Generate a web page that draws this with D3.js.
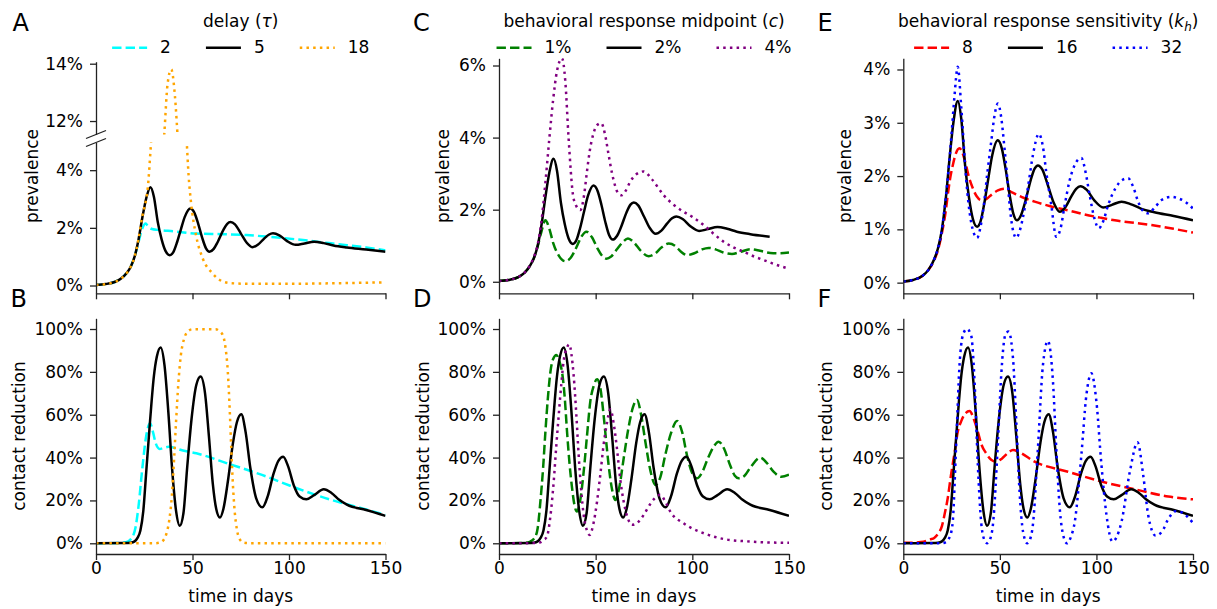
<!DOCTYPE html>
<html><head><meta charset="utf-8">
<script src="https://cdn.jsdelivr.net/npm/d3@7"></script>
<style>
body{margin:0;background:#fff}
svg{display:block}
</style></head><body>
<svg id="chart" width="1217" height="609" font-family="DejaVu Sans"></svg>
<script>
// ---------------- DATA ----------------
const xTicks = [0, 50, 100, 150];
const yTicksALow = [0, 2, 4];
const yTicksAHigh = [12, 14];
const yTicksC = [0, 2, 4, 6];
const yTicksE = [0, 1, 2, 3, 4];
const yTicksContact = [0, 20, 40, 60, 80, 100];
const panelLetters = ["A", "B", "C", "D", "E", "F"];
const legendTau = ["2", "5", "18"];
const legendC = ["1%", "2%", "4%"];
const legendK = ["8", "16", "32"];

// baseline (tau=5, c=2%, k=16) -- black curve in all panels
const prevBase = [[0,0.02],[5,0.05],[10,0.13],[13,0.24],[16,0.44],[18,0.65],[20,1.0],[22,1.58],[24,2.35],[26,3.02],[28.2,3.41],[30,3.08],[32,2.2],[34,1.6],[36,1.2],[38.2,1.05],[40,1.15],[42,1.5],[44,1.95],[46,2.38],[48.9,2.67],[51,2.52],[53,2.13],[55,1.66],[57,1.29],[58.8,1.17],[61,1.27],[63,1.5],[66,1.93],[68,2.14],[69.7,2.2],[72,2.12],[75,1.81],[78,1.49],[81,1.33],[84,1.42],[87,1.62],[89.5,1.76],[91.7,1.81],[95,1.74],[99,1.54],[103.5,1.41],[108,1.46],[113,1.52],[118,1.47],[123,1.39],[130,1.32],[140,1.25],[150,1.17]];
const contactBase = [[0,0],[15,0.1],[18,0.3],[20,0.9],[21.5,2.5],[23,6],[24.5,15],[26,33],[28,57],[30,78],[31.5,87],[33.5,91.4],[35.5,83],[37.5,61],[39.5,34],[41.5,15],[43.4,8.2],[45.3,14],[47.3,36],[49.5,58],[52,74],[54.2,77.8],[56.5,70],[58.5,50],[60.5,28],[62.3,16],[64.2,12],[66,16],[68.5,30],[71,47],[73,56.5],[75.3,60.2],[77.5,52],[80,35],[83,21],[86.2,16.8],[89,22],[92,32.5],[94.5,38.5],[97,40.4],[99.5,36],[102.5,27],[105.5,21.8],[109,20.5],[113,22.5],[118,25.2],[122,23.5],[126,20.3],[130,18],[140,15.5],[150,12.8]];

// delay tau = 2 (cyan) and 18 (orange)
const prevTau2 = [[0,0.02],[5,0.05],[10,0.13],[13,0.24],[16,0.44],[18,0.65],[20,1.0],[22,1.5],[24,1.98],[25.7,2.15],[27,2.05],[29,1.96],[32,1.93],[40,1.88],[52,1.8],[65,1.78],[78,1.75],[91,1.68],[104,1.6],[117,1.5],[130,1.4],[140,1.32],[150,1.22]];
const contactTau2 = [[0,0],[12,0.1],[15.5,0.5],[17.5,1.5],[19,3],[20.5,7.5],[22,17],[24,35],[26,50],[28,56],[29.5,52],[31,46.5],[33,44],[35,44.5],[37.5,45],[45,43.3],[52,42],[69,37],[86,31.9],[104,25.7],[121,20.5],[138,16.3],[150,13.2]];
const prevTau18 = [[0,0.02],[5,0.05],[10,0.13],[13,0.24],[16,0.44],[18,0.65],[20,1.0],[22,1.6],[24,2.4],[26,3.0],[26.8,3.37],[28.5,4.93],[30.5,6.8],[32.5,8.8],[34.3,10.5],[35.4,11.57],[37.1,13.3],[39,13.8],[40.6,13.1],[41.8,12.0],[43,10.5],[45,7.6],[47,5.0],[48,3.8],[49.2,2.9],[51.8,1.75],[55.3,0.94],[60.4,0.42],[65,0.16],[70,0.08],[80,0.06],[100,0.06],[125,0.08],[150,0.11]];
const contactTau18 = [[0,0],[30,0],[33,0.3],[35,1.5],[36.5,4.5],[38,11],[39.3,22],[40.5,40],[41.5,57],[42.7,75],[44,88],[45.5,95],[47.5,98.8],[50,99.9],[62,99.9],[64,99],[65.5,97.5],[67,92],[68.3,80],[69.3,62],[70.1,44],[70.9,28],[71.9,14.5],[73,6.5],[74.5,1.8],[76.5,0.3],[80,0],[150,0]];

// midpoint c = 1% (green) and 4% (purple)
const prevC1 = [[0,0.02],[5,0.05],[10,0.13],[13,0.24],[16,0.44],[18,0.65],[20,0.98],[22,1.4],[24,1.71],[26,1.48],[28,1.08],[31,0.72],[34.3,0.57],[37,0.66],[40,0.95],[42.5,1.24],[45.2,1.39],[48,1.24],[51,0.92],[53,0.74],[55.5,0.64],[58,0.7],[61,0.9],[64,1.1],[66.7,1.2],[70,1.08],[73,0.88],[77.4,0.71],[80.5,0.77],[84,0.95],[87.8,1.06],[91,1.0],[94,0.84],[97.2,0.74],[101,0.79],[105,0.9],[108.4,0.94],[112,0.9],[116,0.81],[120.5,0.77],[125,0.83],[130,0.9],[135,0.86],[140.3,0.8],[145,0.79],[150,0.81]];
const contactC1 = [[0,0],[14,0.2],[16.2,0.8],[18.8,3.1],[20,7],[21.4,19.4],[22.8,35],[24,52],[25.3,68],[26.6,80],[28,86],[29.7,87.9],[31.2,85],[32.6,80],[34,68],[35.2,52],[36.5,37],[37.8,25.7],[39,18],[40.3,14.8],[42,20],[43.8,33.4],[45.5,50],[47.2,66],[49,73.5],[50.7,76.5],[52.5,72],[54.1,59.9],[55.5,47],[56.7,36.5],[58.5,25],[60.2,20.2],[62.2,26],[64.5,39.7],[67,54],[69.3,63.5],[71.4,66.9],[73.5,60],[75.7,47.4],[78.3,34],[80.9,27.2],[83.5,31],[86,41.2],[89,51.5],[92.1,57.1],[94.7,52],[97.2,41.2],[99.8,33],[102.4,30.3],[105,33],[108,39.5],[111,45],[113.6,47.4],[116.5,44],[119.5,36.5],[122,31.5],[124,30.3],[127,31.5],[130.5,36],[135.2,40],[138.5,37.5],[142,33.4],[146,31],[150,32]];
const prevC4 = [[0,0.02],[5,0.05],[10,0.13],[13,0.24],[16,0.45],[18,0.68],[20,1.03],[22,1.7],[24,2.75],[26,3.95],[28,5.05],[30,5.85],[32.6,6.2],[34.3,5.56],[36,3.98],[38.3,2.4],[40,2.1],[42.1,1.99],[44,2.4],[45.5,3.06],[47,3.65],[48.9,4.12],[50.8,4.35],[52.9,4.4],[54.8,4.1],[56.7,3.52],[58.5,3.0],[60.2,2.64],[61.8,2.44],[63.6,2.4],[65.5,2.52],[67.9,2.78],[71,2.98],[74.8,3.06],[79,2.85],[85.2,2.4],[90,2.15],[95.5,1.94],[100,1.8],[105.9,1.57],[111,1.33],[116.2,1.11],[121,0.96],[126.6,0.83],[132,0.7],[137,0.6],[143,0.48],[150,0.36]];
const contactC4 = [[0,0],[18,0.1],[21.4,0.5],[23,1.5],[24.8,3.1],[26.5,12],[28.3,28.8],[29.6,45],[30.9,59.9],[32.2,74],[33.4,84.8],[35,91],[36.4,92.8],[37.5,88],[38.6,78.5],[40,60],[41.2,41.2],[42.5,25],[43.8,13.2],[45.3,6.5],[46.9,3.9],[48.8,9],[50.7,19.4],[52.4,32],[54.1,45.9],[55.8,56],[57.6,62.5],[59.3,56],[61,44.3],[62.7,30],[64.5,19.4],[66.5,12],[68.8,8.6],[71.5,9.5],[74.8,13.2],[78,18],[80,20.5],[83.4,22.6],[86,19.5],[88.6,14.8],[95.5,9.3],[105.9,4.7],[116.2,2],[130,0.8],[150,0.2]];

// sensitivity k = 8 (red) and 32 (blue)
const prevK8 = [[0,0.02],[5,0.05],[10,0.13],[13,0.24],[16,0.42],[18,0.62],[20,0.93],[22,1.35],[23,1.64],[24,1.9],[25.6,2.2],[27,2.4],[29.1,2.52],[31,2.4],[32.5,2.2],[34,1.98],[36,1.77],[38,1.62],[40.3,1.55],[43,1.57],[46,1.66],[49,1.73],[52.4,1.76],[56,1.7],[61.1,1.61],[68,1.52],[76.6,1.43],[85,1.36],[93.9,1.28],[102,1.22],[111.2,1.16],[120,1.12],[128.5,1.08],[140,1.01],[150,0.94]];
const contactK8 = [[0,0.2],[5,0.3],[9,0.6],[12,1.2],[14,1.8],[16,2.5],[18,4.5],[20,8],[21.3,13.2],[23,21],[24.7,31.9],[26.5,42],[28.2,52],[30,57],[32,60.5],[34.3,61.7],[36.5,58],[38.6,52],[40.5,46],[42.9,42],[45.5,39],[48.1,38.1],[51,39.5],[54,42],[56.8,43.5],[60,42.5],[68,38.1],[85.3,33.4],[102.6,28.8],[119.9,25.2],[137.2,21.8],[150,20.5]];
const prevK32 = [[0,0.02],[5,0.05],[10,0.13],[13,0.24],[16,0.44],[18,0.65],[20,1.0],[22,1.6],[24,2.35],[25,2.8],[26.5,3.5],[28.2,4.05],[30,3.3],[32.5,1.96],[35.1,1.14],[38.2,0.84],[40,1.05],[41.7,1.46],[43.5,2.05],[45.5,2.64],[47.3,3.15],[49,3.36],[50.7,3.1],[52.4,2.52],[54,1.9],[55.5,1.3],[57,0.95],[58.5,0.84],[60.5,1.0],[62.8,1.39],[65,1.9],[67.1,2.39],[70.2,2.79],[72.3,2.55],[74,2.08],[76.6,1.46],[79.2,0.86],[81.3,1.0],[83.6,1.46],[86,1.9],[88.8,2.21],[92.2,2.34],[94.5,2.05],[96.5,1.64],[99,1.2],[101.2,1.02],[103.5,1.15],[106.1,1.46],[110,1.78],[113.5,1.93],[116.4,1.96],[119,1.8],[121.6,1.52],[124,1.35],[126.8,1.3],[130,1.4],[133.7,1.55],[138.9,1.61],[142.5,1.58],[145.9,1.52],[150,1.39]];
const contactK32 = [[0,0],[20,0],[22,0.5],[23.5,2],[25,6],[25.6,10],[27.3,44.3],[29.1,83],[30.8,97],[32.9,100],[35.1,97.2],[36.9,75.4],[38.6,36.5],[40.3,10],[41.8,2],[43.4,0],[45,2],[46.4,8.6],[49,47.4],[50.7,78.5],[52.8,97.2],[54.5,98.8],[56.8,86.3],[58.5,56.8],[60.2,24.1],[62,5.4],[64.2,0],[65.7,2],[67.1,8.6],[69.7,44.3],[72.3,83.2],[74.9,94.4],[77.5,75.4],[79.2,44.3],[81,16.3],[83,3],[84.8,0],[86.8,3],[88.8,10.1],[92.2,41.2],[94.8,69.2],[97.4,79.3],[100,66],[102.6,36.5],[105.2,13.2],[108.3,0.8],[110.5,3],[113,10.1],[117.3,33.4],[121.3,47.1],[124.2,31.9],[126.8,13.2],[130.6,3.6],[134,5.5],[137,11],[141,15],[144,14.5],[147,12.5],[150,9.5]];

// ---------------- DRAWING ----------------
const svg = d3.select("#chart");
const defs = svg.append("defs");
const FS = 17;
const LW = 2.5;
const DASHED = "9.4,4.1", DOTTED = "2.5,4.2";
const SPINE = "#222";

const colX = [[96, 385.5], [499, 789], [903.3, 1193]];
const topRow = [293.3, 58.3];
const botRow = [554, 318.3];

let clipN = 0;
function clip(x0, x1, y0, y1) {
  const id = "clip" + (clipN++);
  defs.append("clipPath").attr("id", id).append("rect")
    .attr("x", x0).attr("y", y1).attr("width", x1 - x0).attr("height", y0 - y1);
  return id;
}

function yAxis(scale, ticks, x0, fmt) {
  const g = svg.append("g").attr("transform", `translate(${x0},0)`);
  g.call(d3.axisLeft(scale).tickValues(ticks).tickSize(6).tickSizeOuter(0).tickPadding(7).tickFormat(fmt));
  style(g);
}
function xAxis(scale, y0, labels) {
  const g = svg.append("g").attr("transform", `translate(0,${y0})`);
  g.call(d3.axisBottom(scale).tickValues(xTicks).tickSize(6).tickSizeOuter(0).tickPadding(1.5)
    .tickFormat(labels ? d3.format("d") : () => ""));
  style(g);
}
function style(g) {
  g.attr("font-size", FS).attr("font-family", "DejaVu Sans");
  g.select(".domain").attr("stroke", SPINE).attr("stroke-width", 1.3);
  g.selectAll(".tick line").attr("stroke", SPINE).attr("stroke-width", 1.3);
  g.selectAll(".tick text").attr("fill", "#000");
}
function plot(data, x, y, color, dash, clipId) {
  svg.append("path").datum(data)
    .attr("clip-path", `url(#${clipId})`)
    .attr("fill", "none").attr("stroke", color).attr("stroke-width", LW)
    .attr("stroke-dasharray", dash).attr("stroke-linejoin", "round").attr("stroke-linecap", "butt")
    .attr("d", d3.line().x(d => x(d[0])).y(d => y(d[1])).curve(d3.curveMonotoneX));
}
const pct = d => d + "%";

function yLabel(text, x, cy) {
  svg.append("text").attr("transform", `translate(${x},${cy}) rotate(-90)`)
    .attr("text-anchor", "middle").attr("font-size", FS).text(text);
}
function xLabel(cx) {
  svg.append("text").attr("x", cx).attr("y", 602).attr("text-anchor", "middle")
    .attr("font-size", FS).text("time in days");
}
function letter(t, x, y) {
  svg.append("text").attr("x", x).attr("y", y).attr("font-size", 24).text(t);
}
function legend(cx, titleParts, labels, styles) {
  const t = svg.append("text").attr("x", cx).attr("y", 27).attr("text-anchor", "middle").attr("font-size", FS);
  titleParts.forEach(p => {
    const s = t.append("tspan").text(p.t);
    if (p.i) s.attr("font-style", "italic");
    if (p.sub) s.attr("font-size", 12).attr("dy", 4);
    if (p.up) s.attr("dy", -4);
  });
  const HL = 35, PAD = 13, CS = 35;
  const texts = labels.map(l => svg.append("text").attr("y", 53.3).attr("font-size", FS).text(l));
  const widths = texts.map(tx => tx.node().getComputedTextLength());
  const total = widths.reduce((a, b) => a + b, 0) + labels.length * (HL + PAD) + (labels.length - 1) * CS;
  let x = cx - total / 2;
  labels.forEach((l, i) => {
    svg.append("line").attr("x1", x).attr("x2", x + HL).attr("y1", 47.7).attr("y2", 47.7)
      .attr("stroke", styles[i][0]).attr("stroke-width", LW).attr("stroke-dasharray", styles[i][1]);
    texts[i].attr("x", x + HL + PAD);
    x += HL + PAD + widths[i] + CS;
  });
}

// ----- Column 1: delay -----
{
  const [x0, x1] = colX[0];
  const x = d3.scaleLinear([0, 150], [x0, x1]);
  const yLow = d3.scaleLinear([-0.27, 4.96], [293.3, 142.5]);
  const yHigh = d3.scaleLinear([11.53, 14.07], [134.5, 61.7]);
  const cLow = clip(x0, x1, 293.3, 142.5), cHigh = clip(x0, x1, 134.5, 61.7);
  [[yLow, cLow], [yHigh, cHigh]].forEach(([y, c]) => {
    plot(prevTau2, x, y, "#00ffff", DASHED, c);
    plot(prevBase, x, y, "#000", null, c);
    plot(prevTau18, x, y, "#ffa500", DOTTED, c);
  });
  yAxis(yLow, yTicksALow, x0, pct);
  yAxis(yHigh, yTicksAHigh, x0, pct);
  xAxis(x, 293.3, false);
  // break marks
  [134.5, 142.5].forEach(yb => {
    svg.append("line").attr("x1", x0 - 10).attr("y1", yb + 4).attr("x2", x0 + 10).attr("y2", yb - 4)
      .attr("stroke", SPINE).attr("stroke-width", 1.3);
  });
  const yB = d3.scaleLinear([-5, 105], botRow);
  const cB = clip(x0, x1, botRow[0], botRow[1]);
  plot(contactTau2, x, yB, "#00ffff", DASHED, cB);
  plot(contactBase, x, yB, "#000", null, cB);
  plot(contactTau18, x, yB, "#ffa500", DOTTED, cB);
  yAxis(yB, yTicksContact, x0, pct);
  xAxis(x, botRow[0], true);
  yLabel("prevalence", 38, 176);
  yLabel("contact reduction", 25, 436);
  xLabel((x0 + x1) / 2);
  legend((x0 + x1) / 2, [{t: "delay ("}, {t: "τ", i: true}, {t: ")"}], legendTau,
    [["#00ffff", DASHED], ["#000", null], ["#ffa500", DOTTED]]);
  letter(panelLetters[0], 12.5, 31);
  letter(panelLetters[1], 10.5, 307);
}

// ----- Column 2: midpoint -----
{
  const [x0, x1] = colX[1];
  const x = d3.scaleLinear([0, 150], [x0, x1]);
  const y = d3.scaleLinear([-0.32, 6.2], topRow);
  const c = clip(x0, x1, topRow[0], topRow[1]);
  plot(prevC1, x, y, "#008000", DASHED, c);
  plot(prevBase.filter(d => d[0] <= 146), x, y, "#000", null, c);
  plot(prevC4, x, y, "#800080", DOTTED, c);
  yAxis(y, yTicksC, x0, pct);
  xAxis(x, topRow[0], false);
  const yB = d3.scaleLinear([-5, 105], botRow);
  const cB = clip(x0, x1, botRow[0], botRow[1]);
  plot(contactC1, x, yB, "#008000", DASHED, cB);
  plot(contactBase, x, yB, "#000", null, cB);
  plot(contactC4, x, yB, "#800080", DOTTED, cB);
  yAxis(yB, yTicksContact, x0, pct);
  xAxis(x, botRow[0], true);
  yLabel("prevalence", 449, 176);
  yLabel("contact reduction", 428.5, 436);
  xLabel((x0 + x1) / 2);
  legend((x0 + x1) / 2, [{t: "behavioral response midpoint ("}, {t: "c", i: true}, {t: ")"}], legendC,
    [["#008000", DASHED], ["#000", null], ["#800080", DOTTED]]);
  letter(panelLetters[2], 413, 31);
  letter(panelLetters[3], 413, 307);
}

// ----- Column 3: sensitivity -----
{
  const [x0, x1] = colX[2];
  const x = d3.scaleLinear([0, 150], [x0, x1]);
  const y = d3.scaleLinear([-0.2, 4.21], topRow);
  const c = clip(x0, x1, topRow[0], topRow[1]);
  plot(prevK8, x, y, "#ff0000", DASHED, c);
  plot(prevBase, x, y, "#000", null, c);
  plot(prevK32, x, y, "#0000ff", DOTTED, c);
  yAxis(y, yTicksE, x0, pct);
  xAxis(x, topRow[0], false);
  const yB = d3.scaleLinear([-5, 105], botRow);
  const cB = clip(x0, x1, botRow[0], botRow[1]);
  plot(contactK8, x, yB, "#ff0000", DASHED, cB);
  plot(contactBase, x, yB, "#000", null, cB);
  plot(contactK32, x, yB, "#0000ff", DOTTED, cB);
  yAxis(yB, yTicksContact, x0, pct);
  xAxis(x, botRow[0], true);
  yLabel("prevalence", 851, 176);
  yLabel("contact reduction", 832, 436);
  xLabel((x0 + x1) / 2);
  legend((x0 + x1) / 2, [{t: "behavioral response sensitivity ("}, {t: "k", i: true}, {t: "h", i: true, sub: true}, {t: ")", up: true}], legendK,
    [["#ff0000", DASHED], ["#000", null], ["#0000ff", DOTTED]]);
  letter(panelLetters[4], 817.5, 31);
  letter(panelLetters[5], 817.5, 307);
}
</script>
</body></html>
